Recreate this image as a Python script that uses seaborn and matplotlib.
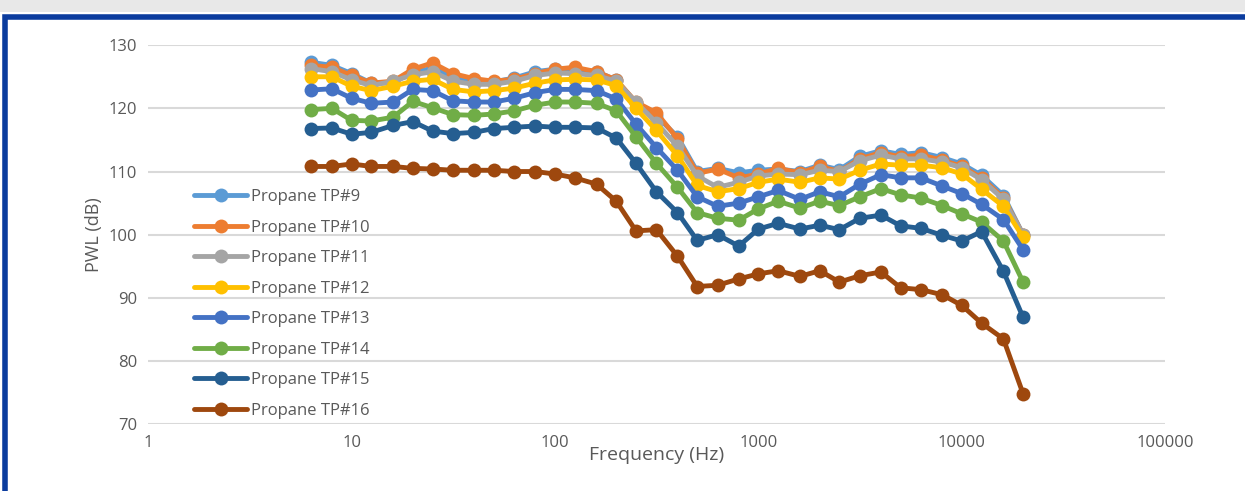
import numpy as np
import pandas as pd
import matplotlib
matplotlib.use("Agg")
import matplotlib.pyplot as plt
import seaborn as sns
from matplotlib.patches import Rectangle

freqs = [6.3, 8, 10, 12.5, 16, 20, 25, 31.5, 40, 50, 63, 80, 100, 125, 160, 200, 250, 315,
         400, 500, 630, 800, 1000, 1250, 1600, 2000, 2500, 3150, 4000, 5000, 6300, 8000,
         10000, 12500, 16000, 20000]

tp9 = [127.3,126.8,125.5,124,124,125.8,126.3,125,124.3,124.2,124.8,125.8,126.2,126.2,125.8,124.5,120.8,118.8,115.5,110,110.5,109.8,110.2,110.4,110,111,110.3,112.4,113.3,112.7,113,112.2,111.2,109.4,106.2,100]
tp10 = [126.8,126.5,125.2,124,124.3,126.2,127.2,125.5,124.7,124.3,124.6,125.5,126.2,126.5,125.8,124.5,121,119.3,115.2,109.7,110.4,109,109.6,110.5,109.8,110.8,110,112,113,112.3,112.6,111.8,110.8,109,105.8,100]
tp11 = [126.3,125.8,124.5,123.6,124.3,125.3,125.8,124.3,123.8,123.8,124.3,125.2,125.6,125.5,125.2,124.3,121,117.7,114,109.3,107.5,108.3,109.3,109.6,109.5,110.2,110,111.7,112.6,112,112,111.5,110.6,108.7,105.6,100]
tp12 = [125,125,123.5,122.8,123.5,124.3,124.6,123,122.6,122.8,123.2,124,124.5,124.6,124.5,123.6,120,116.5,112.5,107.8,106.8,107.3,108.3,108.8,108.3,109,108.8,110.2,111.2,111,111,110.6,109.6,107.2,104.5,99.6]
tp13 = [122.9,123.1,121.6,120.8,121,123,122.8,121.2,121,121,121.6,122.5,123,123,122.8,121.5,117.5,113.8,110.2,106,104.5,105,106,107,105.6,106.8,106,108,109.5,109,109,107.7,106.5,104.8,102.4,97.6]
tp14 = [119.8,120,118.1,118,118.6,121.1,120.1,119,118.9,119.1,119.6,120.5,121,121,120.8,119.6,115.5,111.3,107.5,103.5,102.6,102.3,104.1,105.3,104.2,105.3,104.6,106,107.3,106.3,105.8,104.6,103.3,102,99,92.5]
tp15 = [116.8,116.9,115.9,116.2,117.3,117.9,116.4,116,116.2,116.8,117,117.2,117,117,116.9,115.3,111.3,106.8,103.5,99.1,100,98.2,100.9,101.8,100.9,101.5,100.8,102.6,103.1,101.4,101,99.9,99,100.5,94.2,86.9]
tp16 = [110.8,110.8,111.2,110.8,110.8,110.5,110.4,110.2,110.2,110.2,110,110,109.6,109,108,105.3,100.6,100.8,96.6,91.8,92,93,93.8,94.3,93.4,94.3,92.5,93.5,94.1,91.6,91.3,90.5,88.8,86,83.5,74.8]

series_names = ["Propane TP#9", "Propane TP#10", "Propane TP#11", "Propane TP#12",
                "Propane TP#13", "Propane TP#14", "Propane TP#15", "Propane TP#16"]
series_vals = [tp9, tp10, tp11, tp12, tp13, tp14, tp15, tp16]
colors = ["#5B9BD5", "#ED7D31", "#A5A5A5", "#FFC000", "#4472C4", "#70AD47", "#255E91", "#9E480E"]

df = pd.concat([pd.DataFrame({"Frequency (Hz)": freqs, "PWL (dB)": v, "Series": n})
                for n, v in zip(series_names, series_vals)], ignore_index=True)

sns.set_theme(style="white")
plt.rcParams['font.family'] = ['Open Sans', 'DejaVu Sans']

fig = plt.figure(figsize=(12.45, 4.91), dpi=100)
fig.patch.set_facecolor("white")
fig.patches.append(Rectangle((0, 0.975), 1, 0.025, transform=fig.transFigure,
                             facecolor="#E8E8E8", edgecolor="none", zorder=0))
fig.patches.append(Rectangle((0.004, -0.01), 1.0, 0.975, transform=fig.transFigure,
                             facecolor="none", edgecolor="#0B3C9E", linewidth=4, zorder=5))

ax = fig.add_axes([0.119, 0.136, 0.817, 0.772])
sns.lineplot(data=df, x="Frequency (Hz)", y="PWL (dB)", hue="Series", palette=colors,
             marker="o", markersize=10, markeredgewidth=0, linewidth=3.5, ax=ax,
             sort=False)
ax.set_xscale("log")
ax.set_xlim(1, 100000)
ax.set_ylim(70, 130)
ax.set_yticks(range(70, 131, 10))
ax.set_xticks([1, 10, 100, 1000, 10000, 100000])
ax.set_xticklabels(["1", "10", "100", "1000", "10000", "100000"])
ax.minorticks_off()
ax.yaxis.grid(True, color="#D9D9D9", linewidth=1.5)
ax.set_axisbelow(True)
for s in ax.spines.values():
    s.set_visible(False)
ax.tick_params(axis="both", labelsize=12, colors="#595959", length=0, pad=8)
ax.set_xlabel("Frequency (Hz)", fontsize=14, color="#595959", labelpad=-4)
ax.set_ylabel("PWL (dB)", fontsize=13, color="#595959")
leg = ax.legend(loc="upper left", bbox_to_anchor=(0.045, 0.62), frameon=False,
                fontsize=12, labelcolor="#595959", handlelength=3.2,
                handletextpad=0.2, labelspacing=0.87, borderaxespad=0, borderpad=0)
for h in leg.get_lines():
    h.set_linewidth(3.5)
    h.set_markersize(10)

fig.savefig("out.png", dpi=100)
